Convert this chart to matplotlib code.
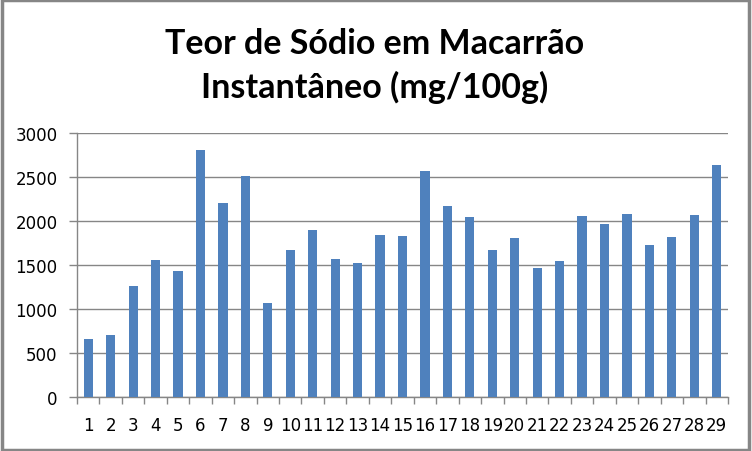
import matplotlib
matplotlib.use("Agg")
import matplotlib.pyplot as plt
from matplotlib.patches import Rectangle
import numpy as np

categories = [str(i) for i in range(1, 30)]
values = [663, 708, 1265, 1561, 1436, 2811, 2208, 2515, 1072, 1674,
          1902, 1572, 1527, 1845, 1833, 2572, 2174, 2049, 1674, 1811,
          1470, 1549, 2061, 1970, 2083, 1731, 1822, 2072, 2640]
yticks = [0, 500, 1000, 1500, 2000, 2500, 3000]
title = "Teor de Sódio em Macarrão\nInstantâneo (mg/100g)"

plt.rcParams['font.family'] = ['DejaVu Sans']
fig = plt.figure(figsize=(7.52, 4.52), dpi=100)
ax = fig.add_axes([77/752, (452-398)/452, (728-77)/752, (398-134)/452])

x = np.arange(len(categories))
ax.bar(x, values, width=0.41, color='#4f81bd', zorder=3)
ax.set_xlim(-0.5, len(categories) - 0.5)
ax.set_ylim(0, 3000)
ax.set_yticks(yticks)
ax.set_yticklabels([str(v) for v in yticks])
ax.set_xticks(x)
ax.set_xticklabels(categories)
ax.set_xticks(np.arange(-0.5, len(categories)), minor=True)
ax.yaxis.grid(True, color='#868686', linewidth=1.0, zorder=0)
for s in ['top', 'right']:
    ax.spines[s].set_visible(False)
for s in ['left', 'bottom']:
    ax.spines[s].set_color('#868686')
    ax.spines[s].set_linewidth(1.0)
ax.tick_params(axis='y', length=6, width=1.0, color='#868686', pad=8,
               labelsize=12, labelcolor='black')
ax.tick_params(axis='x', which='major', length=0, pad=14, labelsize=12,
               labelcolor='black')
ax.tick_params(axis='x', which='minor', length=5, width=1.0, color='#868686')

fig.text(0.4987, 1 - 66/452, title, ha='center', va='center', fontsize=24.5,
         fontweight='bold', family=['Lato', 'DejaVu Sans'], linespacing=1.38)

fig.patches.append(Rectangle((0.002, 0.003), 0.994, 0.994, transform=fig.transFigure,
                             fill=False, edgecolor='#868686', linewidth=2.5))
fig.savefig('out.png', dpi=100)
